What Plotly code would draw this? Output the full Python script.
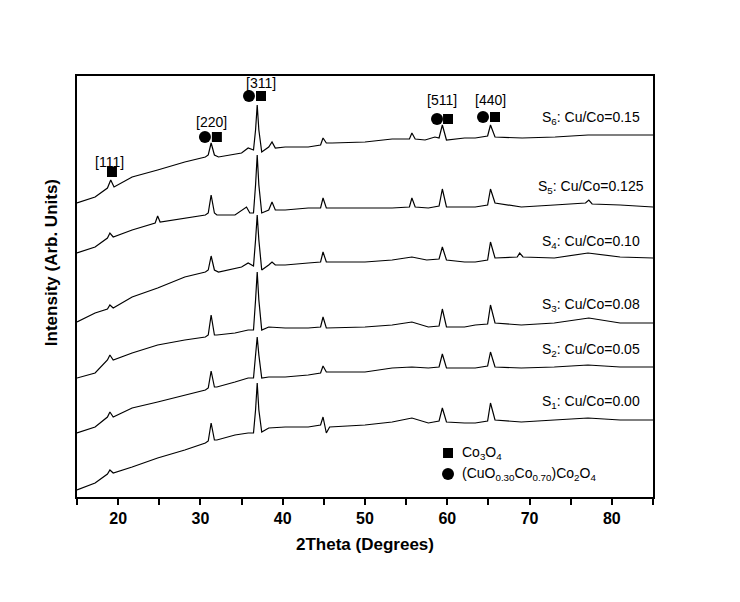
import plotly.graph_objects as go

# ---- data (y in arbitrary intensity units, stacked offsets included) ----
x_s6 = [15, 17.2, 18.7, 19.1, 19.5, 21.7, 24.8, 28.1, 30.6, 30.95, 31.3, 31.7, 32.2, 35.0, 35.8,
        36.45, 36.7, 36.9, 37.1, 37.45, 38.3, 38.7, 39.1, 40.3, 43.1, 44.6, 44.9, 45.3, 46, 50,
        53.3, 55.4, 55.7, 56.1, 57.3, 58.5, 59.0, 59.4, 59.9, 62.1, 63.4, 64.9, 65.25, 65.8,
        69.1, 73.1, 77.1, 81.2, 85]
y_s6 = [294, 300, 309, 317, 310, 320, 327, 335, 340, 342, 354, 342, 340, 344, 349,
        347, 367, 392, 367, 345, 350, 355, 349, 350, 350, 352, 359, 354, 354, 355,
        358, 358, 364, 358, 357, 360, 359, 372, 357, 359, 359, 361, 372, 360,
        359, 360, 362, 362, 362]

x_s5 = [15, 17.2, 18.7, 19.0, 19.4, 21.7, 24.5, 24.8, 25.1, 28.1, 30.6, 30.95, 31.3, 31.7, 32.0,
        34.2, 35.6, 36.0, 36.45, 36.7, 36.9, 37.1, 37.45, 38.3, 38.7, 39.1, 40.3, 43.1, 44.6,
        44.9, 45.3, 50, 53.3, 55.4, 55.7, 56.1, 57.7, 59.0, 59.4, 59.9, 62.1, 63.4, 64.9, 65.25,
        65.8, 69, 73, 76.8, 77.2, 77.6, 81, 85]
y_s5 = [244, 250, 259, 264, 260, 267, 274, 281, 275, 279, 282, 284, 302, 284, 282,
        282, 290, 284, 284, 312, 342, 312, 284, 287, 295, 287, 287, 289, 289,
        299, 289, 289, 289, 290, 299, 290, 289, 291, 308, 290, 290, 290, 292, 308,
        294, 290, 292, 294, 297, 293, 292, 290]

x_s4 = [15, 17.2, 18.7, 19.0, 19.4, 21.7, 24.8, 28.1, 30.6, 30.95, 31.3, 31.7, 32.2, 35, 35.8,
        36.45, 36.7, 36.9, 37.1, 37.45, 38.3, 38.7, 39.1, 40.3, 43.1, 44.6, 44.9, 45.3, 50,
        53.3, 55.7, 57.5, 59.0, 59.4, 59.9, 62.1, 63.4, 64.9, 65.25, 65.8, 68.5, 68.8, 69.2,
        73, 77.1, 81, 85]
y_s4 = [175, 184, 188, 192, 189, 200, 209, 220, 225, 227, 241, 227, 225, 230, 234,
        231, 257, 282, 257, 227, 232, 235, 232, 232, 234, 235, 245, 235, 235,
        237, 240, 237, 238, 250, 237, 235, 235, 237, 255, 239, 240, 244, 240,
        239, 244, 240, 239]

x_s3 = [15, 17.2, 18.7, 19.0, 19.4, 21.7, 24.8, 28.1, 30.6, 30.95, 31.3, 31.7, 32.0, 34.2, 35.8,
        36.45, 36.7, 36.9, 37.1, 37.45, 38.3, 40.3, 43.1, 44.6, 44.9, 45.3, 50, 53.3, 55.7,
        57.7, 59.0, 59.4, 59.9, 62.1, 63.4, 64.9, 65.25, 65.8, 69, 73, 77.2, 81, 85]
y_s3 = [119, 124, 137, 142, 137, 144, 152, 157, 160, 162, 182, 162, 162, 164, 167,
        167, 197, 225, 197, 167, 170, 169, 169, 170, 180, 169, 170, 172, 175,
        170, 171, 188, 170, 170, 172, 173, 192, 174, 172, 174, 179, 174, 174]

x_s2 = [15, 17.2, 18.7, 19.0, 19.4, 21.7, 24.8, 28.1, 30.6, 30.95, 31.3, 31.7, 32.0, 34.2, 35.8,
        36.45, 36.7, 36.9, 37.1, 37.45, 38.3, 40.3, 43.1, 44.6, 44.9, 45.3, 50, 53.3, 55.7,
        57.7, 59.0, 59.4, 59.9, 62.1, 63.4, 64.9, 65.25, 65.8, 69, 73, 77.1, 81, 85]
y_s2 = [64, 70, 80, 85, 80, 89, 95, 102, 107, 109, 126, 110, 110, 115, 119,
        119, 142, 160, 142, 119, 120, 120, 122, 124, 131, 125, 125, 129, 130,
        129, 130, 143, 129, 129, 129, 131, 145, 130, 129, 130, 132, 130, 130]

x_s1 = [15, 17.2, 18.7, 19.0, 19.4, 21.7, 24.8, 28.1, 30.6, 30.95, 31.3, 31.7, 32.0, 34.2, 35.8,
        36.45, 36.7, 36.9, 37.1, 37.45, 38.3, 40.3, 43.1, 44.6, 44.9, 45.3, 45.7, 50, 53.3,
        55.7, 57.7, 59.0, 59.4, 59.9, 62.1, 63.4, 64.9, 65.25, 65.8, 69, 73, 77.1, 81, 85]
y_s1 = [7, 14, 23, 27, 24, 30, 39, 47, 54, 56, 74, 57, 57, 62, 64,
        64, 87, 114, 87, 65, 69, 70, 70, 72, 80, 64, 70, 72, 75,
        79, 74, 76, 89, 75, 74, 74, 76, 94, 77, 75, 77, 79, 77, 77]

sample_labels = ["S<sub>6</sub>: Cu/Co=0.15", "S<sub>5</sub>: Cu/Co=0.125",
                 "S<sub>4</sub>: Cu/Co=0.10", "S<sub>3</sub>: Cu/Co=0.08",
                 "S<sub>2</sub>: Cu/Co=0.05", "S<sub>1</sub>: Cu/Co=0.00"]
label_y = [379, 310, 255, 192, 147, 95]

peak_labels = ["[111]", "[220]", "[311]", "[511]", "[440]"]
peak_label_x = [19.0, 31.4, 37.36, 59.36, 65.3]
peak_label_y = [335, 375, 414, 397, 397]

square_x = [19.25, 32.0, 37.36, 60.09, 65.8]
square_y = [325, 360, 401, 378, 380]
circle_x = [30.55, 35.9, 58.75, 64.34]
circle_y = [360, 401, 378, 380]

legend_names = ["Co<sub>3</sub>O<sub>4</sub>",
                "(CuO<sub>0.30</sub>Co<sub>0.70</sub>)Co<sub>2</sub>O<sub>4</sub>"]

tick_vals = [15, 20, 25, 30, 35, 40, 45, 50, 55, 60, 65, 70, 75, 80, 85]
tick_text = ["", "20", "", "30", "", "40", "", "50", "", "60", "", "70", "", "80", ""]

FONT = "Liberation Sans, Arial, sans-serif"

fig = go.Figure()
for xs, ys in [(x_s1, y_s1), (x_s2, y_s2), (x_s3, y_s3), (x_s4, y_s4), (x_s5, y_s5), (x_s6, y_s6)]:
    fig.add_trace(go.Scatter(x=xs, y=ys, mode="lines",
                             line=dict(color="black", width=1.2), showlegend=False,
                             hoverinfo="skip"))

fig.add_trace(go.Scatter(x=square_x, y=square_y, mode="markers",
                         marker=dict(symbol="square", size=10, color="black"),
                         showlegend=False))
fig.add_trace(go.Scatter(x=circle_x, y=circle_y, mode="markers",
                         marker=dict(symbol="circle", size=12, color="black"),
                         showlegend=False))
# legend symbols
fig.add_trace(go.Scatter(x=[60.09], y=[44], mode="markers",
                         marker=dict(symbol="square", size=10, color="black"), showlegend=False))
fig.add_trace(go.Scatter(x=[60.09], y=[23], mode="markers",
                         marker=dict(symbol="circle", size=12, color="black"), showlegend=False))

annotations = []
for t, y in zip(sample_labels, label_y):
    annotations.append(dict(x=77.5, y=y, text=t, showarrow=False, xanchor="center",
                            yanchor="middle", font=dict(family=FONT, size=14, color="black")))
for t, x, y in zip(peak_labels, peak_label_x, peak_label_y):
    annotations.append(dict(x=x, y=y, text=t, showarrow=False, xanchor="center",
                            yanchor="middle", font=dict(family=FONT, size=14, color="black")))
for t, y in zip(legend_names, [44, 23]):
    annotations.append(dict(x=61.6, y=y, text=t, showarrow=False, xanchor="left",
                            yanchor="middle", font=dict(family=FONT, size=14, color="black")))
annotations.append(dict(xref="paper", yref="paper", x=-0.043, y=0.556, text="<b>Intensity (Arb. Units)</b>",
                        textangle=-90, showarrow=False, xanchor="center", yanchor="middle",
                        font=dict(family=FONT, size=17, color="black")))

fig.update_layout(
    width=732, height=594,
    margin=dict(l=69, r=87, t=68, b=105),
    plot_bgcolor="white", paper_bgcolor="white",
    annotations=annotations,
    xaxis=dict(range=[15, 85], tickvals=tick_vals, ticktext=tick_text,
               ticks="outside", ticklen=6, tickwidth=2, tickcolor="black",
               showline=True, linewidth=2, linecolor="black", mirror=True,
               showgrid=False, zeroline=False,
               tickfont=dict(family=FONT, size=16, color="black", weight="bold"),
               title=dict(text="<b>2Theta (Degrees)</b>", standoff=12,
                          font=dict(family=FONT, size=17, color="black"))),
    yaxis=dict(range=[0, 421], showticklabels=False, ticks="",
               showline=True, linewidth=2, linecolor="black", mirror=True,
               showgrid=False, zeroline=False),
)

fig.write_html("out.html")
